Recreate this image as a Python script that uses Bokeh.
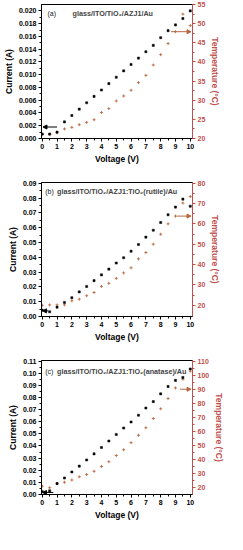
from bokeh.plotting import figure
from bokeh.models import Range1d, LinearAxis, Label, Arrow, NormalHead, FixedTicker, NumeralTickFormatter
from bokeh.layouts import column
from bokeh.embed import file_html
from bokeh.resources import INLINE

voltage = [0, 0.5, 1, 1.5, 2, 2.5, 3, 3.5, 4, 4.5, 5, 5.5, 6, 6.5, 7, 7.5, 8, 8.5, 9, 9.5, 10]

current_a = [0.0007, 0.0007, 0.0010, 0.0026, 0.0036, 0.0046, 0.0056, 0.0066, 0.0076, 0.0086, 0.0096,
             0.0106, 0.0116, 0.0126, 0.0136, 0.0146, 0.0158, 0.0169, 0.0178, 0.0188, 0.0200]
temp_a = [21.0, 21.0, 21.5, 22.5, 22.9, 23.6, 24.2, 24.9, 26.8, 27.8, 29.8,
          31.1, 32.6, 34.6, 36.5, 39.2, 41.9, 44.8, 47.9, 52.5, 49.5]

current_b = [0.0043, 0.0032, 0.0063, 0.0095, 0.0127, 0.0166, 0.0203, 0.0242, 0.0281, 0.0320, 0.0361,
             0.0397, 0.0441, 0.0486, 0.0536, 0.0583, 0.0635, 0.0687, 0.0739, 0.0793, 0.0745]
temp_b = [20.0, 20.2, 20.2, 20.2, 22.2, 23.0, 24.7, 26.3, 29.3, 30.8, 33.2,
          35.9, 38.4, 42.8, 45.9, 50.0, 54.9, 60.0, 63.8, 70.2, 73.4]

current_c = [0.0024, 0.0030, 0.0090, 0.0136, 0.0186, 0.0234, 0.0285, 0.0335, 0.0388, 0.0441, 0.0495,
             0.0548, 0.0598, 0.0654, 0.0713, 0.0766, 0.0830, 0.0891, 0.0941, 0.0965, 0.1035]
temp_c = [21.1, 20.0, 23.0, 23.9, 25.5, 27.8, 29.4, 31.7, 35.1, 38.5, 42.9,
          47.0, 52.0, 57.3, 62.6, 69.2, 76.1, 83.4, 90.9, 97.1, 102.8]

panel_tags = ["(a)", "(b)", "(c)"]
panel_titles = ["glass/ITO/TiO\u2082/AZJ1/Au",
                "glass/ITO/TiO\u2082/AZJ1:TiO\u2082(rutile)/Au",
                "glass/ITO/TiO\u2082/AZJ1:TiO\u2082(anatase)/Au"]
x_ticks = [0, 1, 2, 3, 4, 5, 6, 7, 8, 9, 10]
current_ticks = [
    [0.000, 0.002, 0.004, 0.006, 0.008, 0.010, 0.012, 0.014, 0.016, 0.018, 0.020],
    [0.00, 0.01, 0.02, 0.03, 0.04, 0.05, 0.06, 0.07, 0.08, 0.09],
    [0.00, 0.01, 0.02, 0.03, 0.04, 0.05, 0.06, 0.07, 0.08, 0.09, 0.10, 0.11],
]
temp_ticks = [
    [20, 25, 30, 35, 40, 45, 50, 55],
    [20, 30, 40, 50, 60, 70, 80],
    [20, 30, 40, 50, 60, 70, 80, 90, 100, 110],
]

RED = "#c0504d"
TAN = "#b8693f"
FONT = "Liberation Sans"


def style_axis(ax, color="black"):
    ax.major_label_text_font = FONT
    ax.major_label_text_font_style = "bold"
    ax.major_label_text_font_size = "7px"
    ax.axis_label_text_font = FONT
    ax.axis_label_text_font_style = "bold"
    ax.axis_label_text_font_size = "8.5px"
    ax.major_tick_in = 0
    ax.major_tick_out = 3
    ax.minor_tick_in = 0
    ax.minor_tick_out = 2
    ax.axis_label_standoff = 2
    ax.major_label_standoff = 2
    ax.axis_line_color = color
    ax.major_tick_line_color = color
    ax.minor_tick_line_color = color
    ax.major_label_text_color = color
    ax.axis_label_text_color = color


def make_panel(idx, cur, tmp, yr, tr, fmt, tag_pos, title_pos, black_arrow, red_arrow):
    p = figure(width=227, height=178, output_backend="svg", toolbar_location=None,
               x_range=Range1d(-0.05, 10.15), y_range=Range1d(*yr),
               min_border_left=31, min_border_right=33, min_border_top=4, min_border_bottom=40)
    p.extra_y_ranges = {"temp": Range1d(*tr)}
    p.grid.visible = False
    p.outline_line_color = "black"
    p.outline_line_width = 1

    style_axis(p.xaxis[0])
    style_axis(p.yaxis[0])
    p.xaxis[0].ticker = FixedTicker(ticks=x_ticks,
                                    minor_ticks=[v + 0.5 for v in x_ticks[:-1]])
    p.xaxis[0].axis_label = "Voltage (V)"
    step = current_ticks[idx][1] - current_ticks[idx][0]
    p.yaxis[0].ticker = FixedTicker(ticks=current_ticks[idx],
                                    minor_ticks=[t + step / 2 for t in current_ticks[idx][:-1]])
    p.yaxis[0].formatter = NumeralTickFormatter(format=fmt)
    p.yaxis[0].axis_label = "Current (A)"

    ra = LinearAxis(y_range_name="temp", axis_label="Temperature (\u00b0C)")
    tstep = temp_ticks[idx][1] - temp_ticks[idx][0]
    ra.ticker = FixedTicker(ticks=temp_ticks[idx],
                            minor_ticks=[t + tstep / 2 for t in temp_ticks[idx][:-1]])
    ra.formatter = NumeralTickFormatter(format="0")
    style_axis(ra, RED)
    p.add_layout(ra, "right")

    p.scatter(voltage, tmp, y_range_name="temp", marker="cross", size=3,
              line_color=TAN, line_width=0.9)
    p.scatter(voltage, cur, marker="square", size=2.1, fill_color="black", line_color="black",
              line_width=0.5)

    p.add_layout(Label(x=tag_pos[0], y=tag_pos[1], text=panel_tags[idx], text_font=FONT,
                       text_font_size="7px", text_baseline="middle", text_color="#222222"))
    p.add_layout(Label(x=title_pos[0], y=title_pos[1], text=panel_titles[idx], text_font=FONT,
                       text_font_size="7.2px", text_font_style="bold", text_baseline="middle"))

    p.add_layout(Arrow(x_start=black_arrow[0], x_end=black_arrow[1], y_start=black_arrow[2],
                       y_end=black_arrow[2], line_color="black", line_width=1,
                       end=NormalHead(size=4, fill_color="black", line_color="black")))
    p.add_layout(Arrow(x_start=red_arrow[0], x_end=red_arrow[1], y_start=red_arrow[2],
                       y_end=red_arrow[2], y_range_name="temp", line_color=TAN, line_width=1,
                       end=NormalHead(size=4, fill_color=TAN, line_color=TAN)))
    return p


pa = make_panel(0, current_a, temp_a, (0, 0.021), (20, 55), "0.000",
                (0.35, 0.0196), (2.05, 0.0196), (1.0, 0.05, 0.0018), (8.7, 10.05, 47.9))
pb = make_panel(1, current_b, temp_b, (0, 0.0905), (14.5, 80.3), "0.00",
                (0.2, 0.0847), (1.0, 0.0847), (0.4, 0.02, 0.0038), (9.1, 10.05, 63.8))
pc = make_panel(2, current_c, temp_c, (0, 0.1105), (15.2, 110.4), "0.00",
                (0.2, 0.1013), (1.0, 0.1013), (0.75, 0.02, 0.0017), (9.3, 10.05, 90.0))

layout = column(pa, pb, pc, spacing=0)
open("out.html", "w").write(file_html(layout, INLINE))
